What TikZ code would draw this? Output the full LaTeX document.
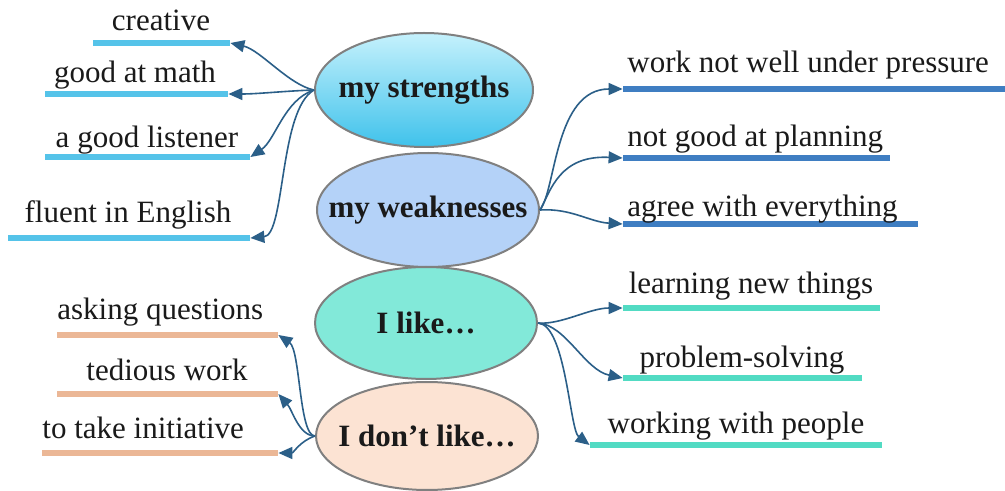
\documentclass[tikz,border=0pt]{standalone}
\usepackage{fontspec}
\setmainfont{LiberationSerif}[Extension=.ttf, UprightFont=*-Regular, BoldFont=*-Bold, ItalicFont=*-Italic, BoldItalicFont=*-BoldItalic]
\usetikzlibrary{arrows.meta,shapes.geometric}
\definecolor{conncol}{HTML}{2B5F88}
\definecolor{bordercol}{HTML}{808080}
\definecolor{textcol}{HTML}{1A1A1A}
\definecolor{sbar}{HTML}{55C3E9}
\definecolor{wbar}{HTML}{3F7EC2}
\definecolor{lbar}{HTML}{52DBC3}
\definecolor{dbar}{HTML}{EBB796}
\definecolor{stop}{HTML}{C5F1FC}
\definecolor{smid}{HTML}{86DCF4}
\definecolor{sbot}{HTML}{3FC2EB}
\definecolor{wfill}{HTML}{B4D2F8}
\definecolor{lfill}{HTML}{82E9D9}
\definecolor{dfill}{HTML}{FCE3D3}
\begin{document}
\begin{tikzpicture}[x=0.5pt,y=-0.5pt,
  bubble/.style={ellipse, draw=bordercol, line width=1pt, inner sep=0pt,
    font=\fontsize{15.5}{18}\selectfont\bfseries, text=textcol},
  bar/.style={rectangle, inner sep=0pt, minimum height=3pt, fill=#1},
  txt/.style={inner sep=0pt, font=\fontsize{15.5}{18}\selectfont\rmfamily\mdseries, text=textcol},
  conn/.style={draw=conncol, line width=0.8pt, -{Triangle[length=7pt,width=6pt]}}]
\useasboundingbox (0,0) rectangle (1005,491);
\fill[white] (0,0) rectangle (1005,491);

% central bubbles
\node[bubble, minimum width=109pt, minimum height=57pt,
  top color=stop, middle color=smid, bottom color=sbot] (ms) at (424,90) {\makebox[0pt]{my strengths}};
\node[bubble, minimum width=111pt, minimum height=57pt, fill=wfill] (mw) at (428,210) {\makebox[0pt]{my weaknesses}};
\node[bubble, minimum width=111pt, minimum height=56pt, fill=lfill] (ml) at (426,323) {\makebox[0pt]{I like\dots}};
\node[bubble, minimum width=111pt, minimum height=54pt, fill=dfill] (md) at (427,436) {\makebox[0pt]{I don’t like\dots}};

% strengths
\node[bar=sbar, minimum width=68.5pt] (s1) at (161.5,43) {};
\node[bar=sbar, minimum width=91.5pt] (s2) at (136.5,94) {};
\node[bar=sbar, minimum width=102.5pt] (s3) at (147.5,157) {};
\node[bar=sbar, minimum width=121pt] (s4) at (129,238) {};
\node[txt, anchor=base] (t1) at (161,31) {creative};
\node[txt, anchor=base] (t2) at (135,83) {good at math};
\node[txt, anchor=base] (t3) at (147,148) {a good listener};
\node[txt, anchor=base] (t4) at (128,223) {fluent in English};

% weaknesses
\node[bar=wbar, minimum width=191pt] (w1) at (814,89) {};
\node[bar=wbar, minimum width=133.5pt] (w2) at (756.5,158) {};
\node[bar=wbar, minimum width=147.5pt] (w3) at (770.5,224) {};
\node[txt, anchor=base west] (u1) at (627,73) {work not well under pressure};
\node[txt, anchor=base west] (u2) at (627,147) {not good at planning};
\node[txt, anchor=base west] (u3) at (627,217) {agree with everything};

% likes
\node[bar=lbar, minimum width=128.5pt] (l1) at (751.5,308) {};
\node[bar=lbar, minimum width=119.5pt] (l2) at (742.5,378) {};
\node[bar=lbar, minimum width=146pt] (l3) at (736,445) {};
\node[txt, anchor=base] (k1) at (751,293) {learning new things};
\node[txt, anchor=base] (k2) at (742,367) {problem-solving};
\node[txt, anchor=base] (k3) at (736,433) {working with people};

% dislikes
\node[bar=dbar, minimum width=110.5pt] (d1) at (167.5,335) {};
\node[bar=dbar, minimum width=110.5pt] (d2) at (167.5,394) {};
\node[bar=dbar, minimum width=118pt] (d3) at (160,453) {};
\node[txt, anchor=base west] (e1) at (57,320) {asking questions};
\node[txt, anchor=base] (e2) at (167,380) {tedious work};
\node[txt, anchor=base west] (e3) at (42,438) {to take initiative};

% connectors: strengths
\draw[conn] (ms.west) .. controls +(-25,-5) and +(30,7) .. (s1.east);
\draw[conn] (ms.west) .. controls +(-30,1) and +(30,0) .. (s2.east);
\draw[conn] (ms.west) .. controls +(-30,10) and +(25,-17) .. (s3.east);
\draw[conn] (ms.west) .. controls +(-35,20) and +(35,-3) .. (s4.east);
% weaknesses
\draw[conn] (mw.east) .. controls +(16,-20) and +(-68,0) .. (w1.west);
\draw[conn] (mw.east) .. controls +(11,-20) and +(-63,-3) .. (w2.west);
\draw[conn] (mw.east) .. controls +(31,-2) and +(-33,-2) .. (w3.west);
% likes
\draw[conn] (ml.east) .. controls +(23,2) and +(-33,0) .. (l1.west);
\draw[conn] (ml.east) .. controls +(28,2) and +(-38,-8) .. (l2.west);
\draw[conn] (ml.east) .. controls +(28,2) and +(-20,-15) .. (l3.west);
% dislikes
\draw[conn] (md.west) .. controls +(-16,0) and +(22,15) .. (d1.east);
\draw[conn] (md.west) .. controls +(-16,0) and +(14,16) .. (d2.east);
\draw[conn] (md.west) .. controls +(-15,5) and +(15,0) .. (d3.east);
\end{tikzpicture}
\end{document}
